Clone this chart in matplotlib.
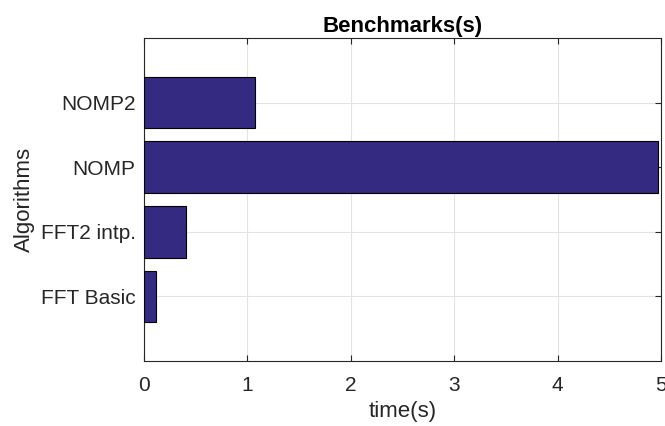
import matplotlib
matplotlib.use('Agg')
import matplotlib.pyplot as plt

algorithms = ['FFT Basic', 'FFT2 intp.', 'NOMP', 'NOMP2']
times = [0.12, 0.41, 4.97, 1.07]

plt.rcParams['font.family'] = ['Liberation Sans', 'DejaVu Sans']

fig = plt.figure(figsize=(6.65, 4.26), dpi=100)
ax = fig.add_axes([0.2165, 0.1526, 0.7775, 0.7582])

pos = list(range(1, len(algorithms) + 1))
ax.barh(pos, times, height=0.8, color='#342A82', edgecolor='black', linewidth=0.8, zorder=3)

ax.set_xlim(0, 5)
ax.set_ylim(0, 5)
ax.set_yticks(pos)
ax.set_yticklabels(algorithms)
ax.set_xticks(range(6))
ax.grid(True, color='#e3e3e3', linewidth=0.8, zorder=0)
ax.tick_params(direction='in', top=True, right=True, labelsize=15, colors='#262626', length=4)
ax.tick_params(axis='x', pad=11)
ax.tick_params(axis='y', pad=6)
for tl in ax.get_xticklabels() + ax.get_yticklabels():
    tl.set_color('#262626')
for s in ax.spines.values():
    s.set_color('#262626')
    s.set_linewidth(0.8)

ax.set_xlabel('time(s)', fontsize=16, color='#262626', labelpad=4)
ax.set_ylabel('Algorithms', fontsize=16, color='#262626', labelpad=4)
ax.set_title('Benchmarks(s)', fontsize=16, fontweight='bold', pad=4)

fig.savefig('out.png', dpi=100)
